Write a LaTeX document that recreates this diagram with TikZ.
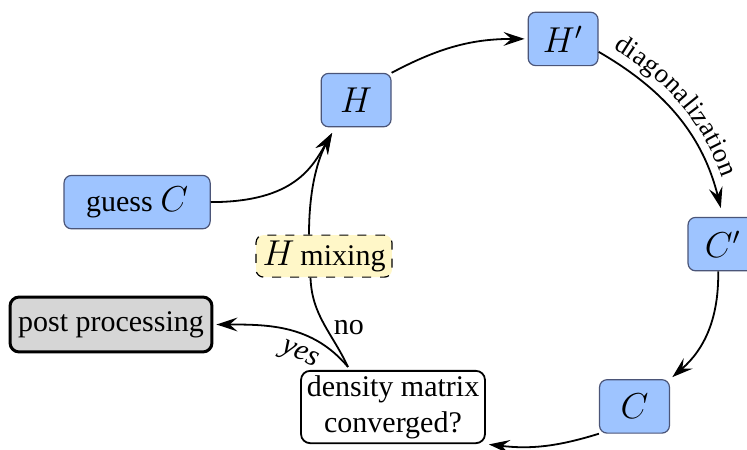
\documentclass[tikz,border=0pt]{standalone}
\usepackage{fontspec}
\setmainfont{Liberation Serif}
\usetikzlibrary{positioning}
\usetikzlibrary{arrows.meta}
\usetikzlibrary{decorations.text}

\definecolor{boxblue}{RGB}{158,196,255}
\definecolor{boxborder}{RGB}{75,85,120}
\definecolor{mixyellow}{RGB}{255,247,200}
\definecolor{postgray}{RGB}{214,214,214}

\begin{document}
\begin{tikzpicture}[x=1pt, y=1pt,
bluenode/.style={rectangle, rounded corners=2.5pt, draw=boxborder, fill=boxblue, minimum width=23.3pt, minimum height=17.8pt, inner xsep=4pt},
mixnode/.style={rectangle, rounded corners=2.5pt, dashed, draw, fill=mixyellow, minimum width=45.3pt, minimum height=14pt, inner sep=1pt},
checknode/.style={rectangle, rounded corners=3pt, draw, semithick, fill=white, align=center, minimum width=61.3pt, minimum height=23.7pt, inner sep=1.5pt},
postnode/.style={rectangle, rounded corners=3pt, draw, line width=1pt, fill=postgray, minimum width=67.3pt, minimum height=18.3pt, inner sep=2pt},
flow/.style={-{Stealth[length=7pt, width=4.6pt, inset=2.6pt]}, semithick, shorten >=1pt},
]
\useasboundingbox (0,0) rectangle (249,149.67);

%Nodes
\node[bluenode] (h)  at (118.7,116.3) {\large $H$};
\node[bluenode] (hp) at (187.7,136.7) {\large $H'$};
\node[bluenode] (cp) at (241,68.3)    {\large $C'$};
\node[bluenode] (c)  at (211.5,14.2)  {\large $C$};
\node[checknode] (d) at (131,14)      {density matrix\\converged?};
\node[mixnode] (mix) at (108,64.3)    {\large $H$\,\normalsize mixing};
\node[bluenode, minimum width=48.7pt] (guess) at (45.7,82.3) {guess \large $C$};
\node[postnode] (post) at (37,41.5)   {post processing};

\coordinate (dtop)   at ([xshift=-15pt, yshift=1pt]d.north);
\coordinate (hin)    at ([xshift=-7.5pt, yshift=-1pt]h.south);
\coordinate (mixin)  at ([xshift=-4.5pt]mix.south);
\coordinate (mixout) at ([xshift=-5pt]mix.north);

%Lines
\draw[flow] (h.north east) to[bend left=14] (hp.west);
\draw[flow, shorten >=3pt] (hp.-20) to[bend left=23] (cp.north);
\path[decorate, decoration={text along path, text align={left, left indent=3.5pt}, raise=3.5pt, text={|\small|diagonalization}}]
  (hp.-20) to[bend left=23] (cp.north);
\draw[flow] (cp.-100) to[bend left=25] (c.north east);
\draw[flow] (c.south west) to[bend left=12] (d.south east);
\draw[semithick] (dtop) to[out=115, in=-88] node[right=-1pt, pos=0.45] {no} (mixin);
\draw[flow] (mixout) .. controls +(0,16) and +(-5,-9) .. (hin);
\draw[flow] (guess.east) .. controls +(28,0) and +(-7,-12) .. (hin);
\draw[flow] (dtop) to[out=130, in=0] node[sloped, below, pos=0.35] {\itshape yes} (post.east);
\end{tikzpicture}
\end{document}
